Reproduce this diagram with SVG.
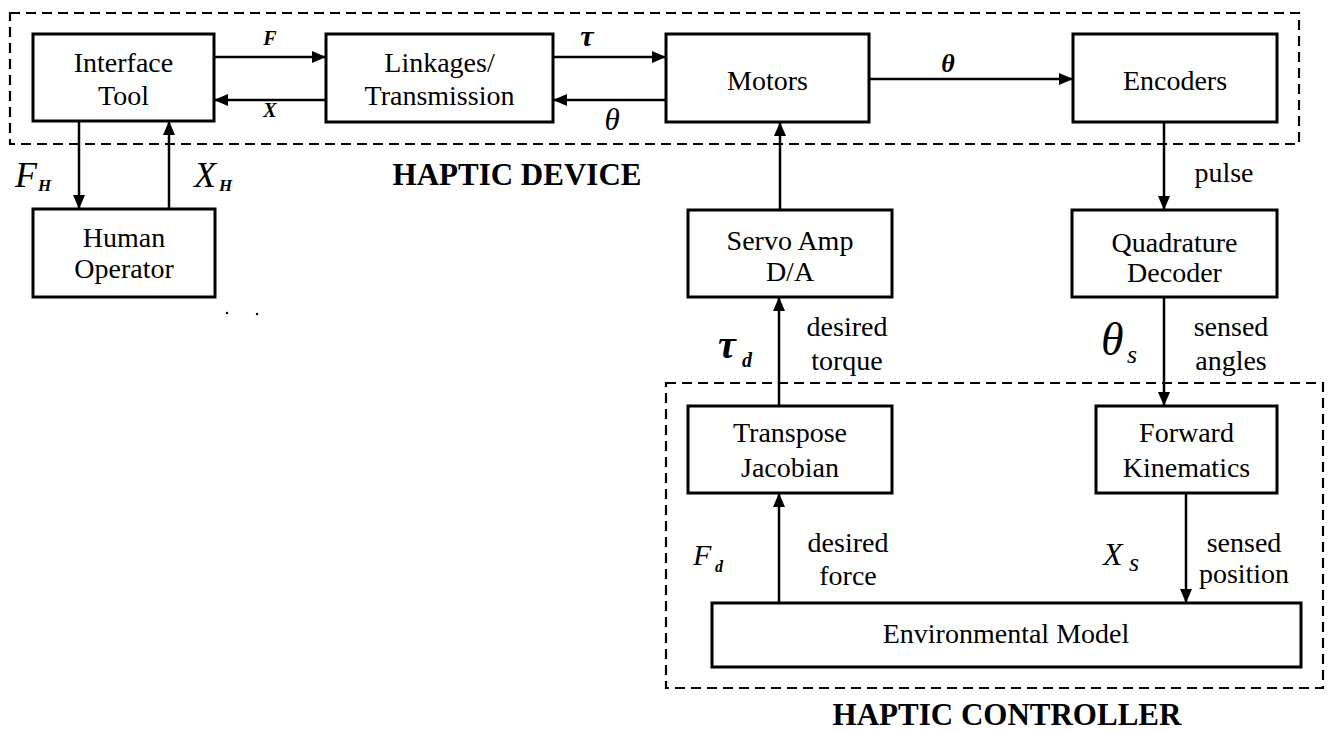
<svg xmlns="http://www.w3.org/2000/svg" width="1330" height="731" viewBox="0 0 1330 731">
  <style>
    text { font-family: 'Liberation Serif', 'DejaVu Serif', 'Noto Serif', serif; fill: #000; }
    .box { fill: #fff; stroke: #000; stroke-width: 3; }
    .group { fill: none; stroke: #000; stroke-width: 2.2; stroke-dasharray: 10 6; }
    .wire { fill: none; stroke: #000; stroke-width: 2.5; }
    .lbl { font-size: 28px; text-anchor: middle; }
    .note { font-size: 28px; text-anchor: middle; }
    .math { font-style: italic; }
    .title { font-weight: bold; font-size: 31px; text-anchor: middle; }
  </style>
  <defs>
    <marker id="arrow" viewBox="0 0 14 12" refX="14" refY="6" markerWidth="14" markerHeight="12" markerUnits="userSpaceOnUse" orient="auto">
      <path d="M0,0 L14,6 L0,12 Z" fill="#000"/>
    </marker>
  </defs>

  <!-- subsystem outlines -->
  <g id="haptic-device">
    <rect class="group" x="10" y="13" width="1289" height="131"/>
    <text class="title" x="517" y="185">HAPTIC DEVICE</text>
  </g>
  <g id="haptic-controller">
    <rect class="group" x="666" y="383" width="657" height="305"/>
    <text class="title" x="1007" y="725">HAPTIC CONTROLLER</text>
  </g>

  <!-- blocks -->
  <g id="interface-tool">
    <rect class="box" x="33" y="34" width="181" height="87"/>
    <text class="lbl" x="123.5" y="72">Interface</text>
    <text class="lbl" x="123.5" y="105">Tool</text>
  </g>
  <g id="linkages">
    <rect class="box" x="326" y="34" width="227" height="88"/>
    <text class="lbl" x="439.5" y="72">Linkages/</text>
    <text class="lbl" x="439.5" y="105">Transmission</text>
  </g>
  <g id="motors">
    <rect class="box" x="666" y="34" width="203" height="88"/>
    <text class="lbl" x="767.5" y="90">Motors</text>
  </g>
  <g id="encoders">
    <rect class="box" x="1073" y="34" width="204" height="88"/>
    <text class="lbl" x="1175" y="90">Encoders</text>
  </g>
  <g id="human-operator">
    <rect class="box" x="33" y="209" width="182" height="88"/>
    <text class="lbl" x="124" y="247">Human</text>
    <text class="lbl" x="124" y="278">Operator</text>
  </g>
  <g id="servo-amp">
    <rect class="box" x="688" y="210" width="204" height="87"/>
    <text class="lbl" x="790" y="250">Servo Amp</text>
    <text class="lbl" x="790" y="281">D/A</text>
  </g>
  <g id="quadrature-decoder">
    <rect class="box" x="1072" y="210" width="205" height="87"/>
    <text class="lbl" x="1174.5" y="252">Quadrature</text>
    <text class="lbl" x="1174.5" y="282">Decoder</text>
  </g>
  <g id="transpose-jacobian">
    <rect class="box" x="688" y="406" width="204" height="87"/>
    <text class="lbl" x="790" y="442">Transpose</text>
    <text class="lbl" x="790" y="477">Jacobian</text>
  </g>
  <g id="forward-kinematics">
    <rect class="box" x="1096" y="406" width="181" height="87"/>
    <text class="lbl" x="1186.5" y="442">Forward</text>
    <text class="lbl" x="1186.5" y="477">Kinematics</text>
  </g>
  <g id="environmental-model">
    <rect class="box" x="712" y="603" width="589" height="64"/>
    <text class="lbl" x="1006" y="643">Environmental Model</text>
  </g>

  <!-- signal paths -->
  <g id="connectors">
    <line class="wire" x1="214" y1="57" x2="326" y2="57" marker-end="url(#arrow)"/>
    <line class="wire" x1="326" y1="100" x2="214" y2="100" marker-end="url(#arrow)"/>
    <line class="wire" x1="553" y1="57" x2="666" y2="57" marker-end="url(#arrow)"/>
    <line class="wire" x1="666" y1="100" x2="553" y2="100" marker-end="url(#arrow)"/>
    <line class="wire" x1="869" y1="79" x2="1073" y2="79" marker-end="url(#arrow)"/>
    <line class="wire" x1="79" y1="121" x2="79" y2="209" marker-end="url(#arrow)"/>
    <line class="wire" x1="169" y1="209" x2="169" y2="121" marker-end="url(#arrow)"/>
    <line class="wire" x1="780" y1="210" x2="780" y2="122" marker-end="url(#arrow)"/>
    <line class="wire" x1="1164" y1="122" x2="1164" y2="210" marker-end="url(#arrow)"/>
    <line class="wire" x1="779" y1="406" x2="779" y2="297" marker-end="url(#arrow)"/>
    <line class="wire" x1="1164" y1="297" x2="1164" y2="406" marker-end="url(#arrow)"/>
    <line class="wire" x1="779" y1="603" x2="779" y2="493" marker-end="url(#arrow)"/>
    <line class="wire" x1="1186" y1="493" x2="1186" y2="603" marker-end="url(#arrow)"/>
  </g>

  <!-- signal labels -->
  <g id="signal-labels">
    <text class="math" x="270" y="45" font-size="20" font-weight="bold" text-anchor="middle">F</text>
    <text class="math" x="270" y="117" font-size="20" font-weight="bold" text-anchor="middle">X</text>
    <text class="math" x="587" y="46" font-size="30" font-weight="bold" text-anchor="middle">τ</text>
    <text class="math" x="612" y="130" font-size="31" text-anchor="middle">θ</text>
    <text class="math" x="948" y="72" font-size="26" font-weight="bold" text-anchor="middle">θ</text>

    <text class="math" x="15" y="187" font-size="36">F</text>
    <text class="math" x="38" y="191" font-size="17" font-weight="bold">H</text>
    <text class="math" x="194" y="187" font-size="36">X</text>
    <text class="math" x="219" y="191" font-size="17" font-weight="bold">H</text>

    <text class="note" x="1224" y="182">pulse</text>

    <text class="math" x="718" y="358" font-size="40" font-weight="bold">τ</text>
    <text class="math" x="742" y="367" font-size="20" font-weight="bold">d</text>
    <text class="note" x="847" y="336">desired</text>
    <text class="note" x="847" y="370">torque</text>

    <text class="math" x="1101" y="355" font-size="46">θ</text>
    <text class="math" x="1127" y="363" font-size="26">s</text>
    <text class="note" x="1231" y="336">sensed</text>
    <text class="note" x="1231" y="370">angles</text>

    <text class="math" x="693" y="565" font-size="30">F</text>
    <text class="math" x="715" y="572" font-size="16" font-weight="bold">d</text>
    <text class="note" x="848" y="552">desired</text>
    <text class="note" x="848" y="585">force</text>

    <text class="math" x="1103" y="565" font-size="32">X</text>
    <text class="math" x="1129" y="571" font-size="26">s</text>
    <text class="note" x="1244" y="552">sensed</text>
    <text class="note" x="1244" y="583">position</text>
  </g>

  <!-- stray marks -->
  <g id="marks">
    <circle cx="227" cy="313" r="1.2" fill="#000"/>
    <circle cx="257" cy="314" r="1.2" fill="#000"/>
  </g>
</svg>
